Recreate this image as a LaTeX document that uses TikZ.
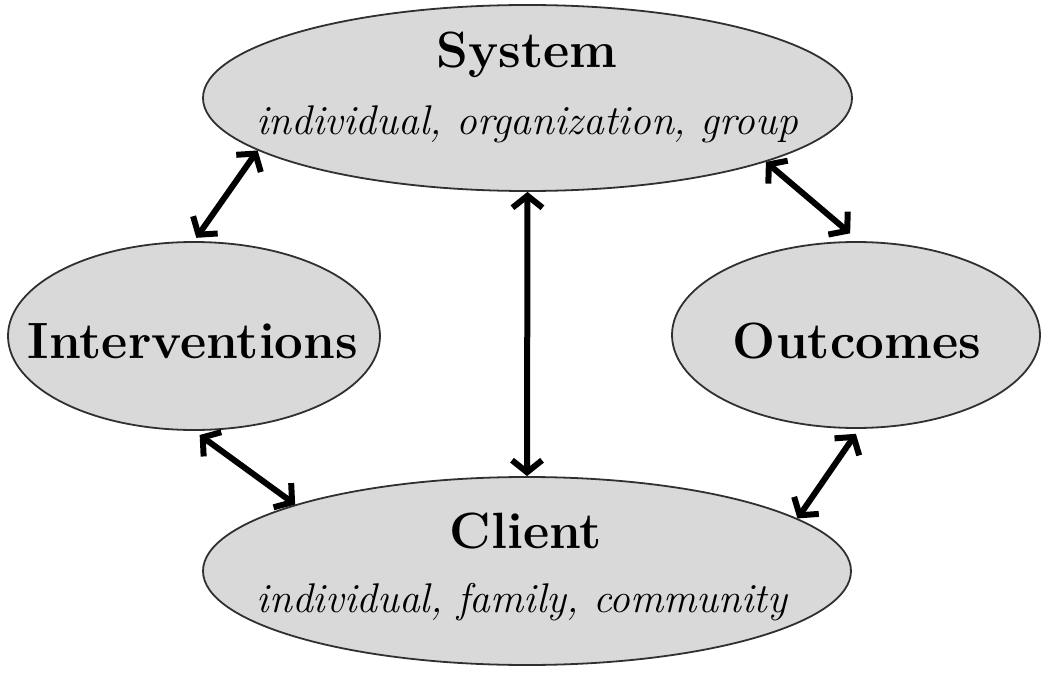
\documentclass[tikz,border=0pt]{standalone}
\usetikzlibrary{shapes.geometric,arrows.meta}
\definecolor{ellfill}{HTML}{D9D9D9}
\definecolor{ellline}{HTML}{303030}
\tikzset{
  oval/.style={ellipse, draw=ellline, line width=1.8pt, fill=ellfill, inner sep=0pt},
  title/.style={anchor=base, font=\fontsize{51}{51}\selectfont\bfseries, inner sep=0pt},
  sub/.style={anchor=base, font=\fontsize{41.5}{41.5}\selectfont\itshape, inner sep=0pt},
  link/.style={line width=6pt, {Straight Barb[length=12pt,width=30pt,line width=6pt]}-{Straight Barb[length=12pt,width=30pt,line width=6pt]}},
}
\begin{document}
\begin{tikzpicture}[x=1pt,y=-1pt]
\useasboundingbox (0,0) rectangle (1050,674);
\node[oval, minimum width=649pt, minimum height=186pt] (sys) at (527.5,98) {};
\node[oval, minimum width=372pt, minimum height=188pt] (int) at (194,336) {};
\node[oval, minimum width=368pt, minimum height=186pt] (out) at (856,335) {};
\node[oval, minimum width=648pt, minimum height=188pt] (cli) at (527,571) {};
\node[title] (systitle) at (527,68) {System};
\node[sub] (syssub) at (527,135) {individual, organization, group};
\node[title] (inttitle) at (193,358) {Interventions};
\node[title] (outtitle) at (857,358) {Outcomes};
\node[title] (clititle) at (526,548) {Client};
\node[sub] (clisub) at (522,612) {individual, family, community};
\draw[link, shorten >=4pt] (sys.191.5) -- (int.90);
\draw[link, shorten >=12pt] (sys.345) -- (out.88);
\draw[link] (sys.270) -- (cli.90);
\draw[link, shorten <=7pt] (int.270) -- (cli.164.4);
\draw[link, shorten <=6pt] (out.272) -- (cli.11.2);
\end{tikzpicture}
\end{document}
